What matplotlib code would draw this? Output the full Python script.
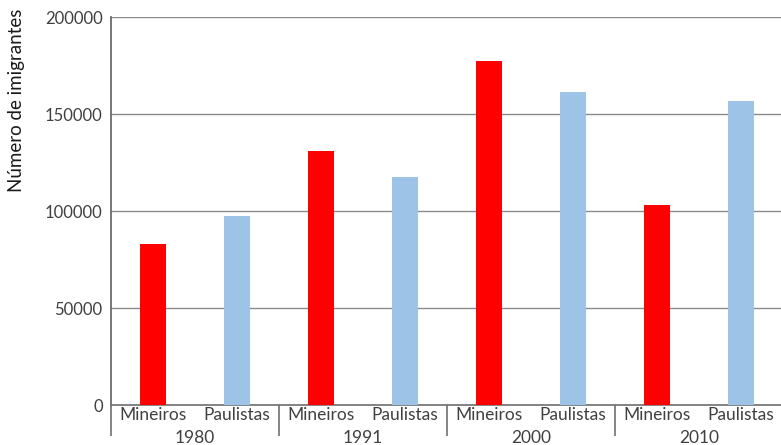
import matplotlib
matplotlib.use("Agg")
import matplotlib.pyplot as plt
import matplotlib.transforms as mtransforms
import numpy as np

anos = ["1980", "1991", "2000", "2010"]
grupos = ["Mineiros", "Paulistas"]
mineiros = [83100, 131000, 177500, 103200]
paulistas = [97600, 117700, 161500, 156900]
yticks = [0, 50000, 100000, 150000, 200000]

cor_min = "#ff0000"
cor_pau = "#9dc3e6"

plt.rcParams['font.family'] = ['Lato', 'DejaVu Sans']

fig = plt.figure(figsize=(7.81, 4.45), dpi=100)
ax = fig.add_axes([111/781, 39.7/445, 672/781, 388/445])

x = np.arange(len(anos) * 2)
valores = []
cores = []
for m, p in zip(mineiros, paulistas):
    valores += [m, p]
    cores += [cor_min, cor_pau]
ax.bar(x, valores, width=0.32, color=cores, zorder=3)

ax.set_xlim(-0.5, len(x) - 0.5)
ax.set_ylim(0, 200000)
ax.set_yticks(yticks)
ax.set_yticklabels([str(v) for v in yticks], fontsize=12, color="#404040")
ax.yaxis.grid(True, color="#8a8a8a", lw=1, zorder=0)
ax.tick_params(axis="y", length=0, pad=6)

ax.set_xticks(x)
ax.set_xticklabels(grupos * len(anos), fontsize=12.5, color="#404040")
ax.tick_params(axis="x", which="major", length=0, pad=1.5)
ax.set_xticks(np.arange(-0.5, len(x), 2), minor=True)
ax.tick_params(axis="x", which="minor", length=22, width=1.2, color="#707070")

trans = mtransforms.blended_transform_factory(ax.transData, ax.transAxes)
for i, ano in enumerate(anos):
    ax.text(2 * i + 0.5, -0.085, ano, transform=trans, ha="center", va="center",
            fontsize=12.5, color="#404040")

for s in ["top", "right"]:
    ax.spines[s].set_visible(False)
ax.spines["left"].set_color("#606060")
ax.spines["left"].set_linewidth(1.2)
ax.spines["bottom"].set_color("#707070")
ax.spines["bottom"].set_linewidth(1.2)

fig.text(17/781, 1 - 100/445, "Número de imigrantes", rotation=90, ha="center",
         va="center", fontsize=13.5, color="#1a1a1a")

fig.savefig("out.png", dpi=100)
